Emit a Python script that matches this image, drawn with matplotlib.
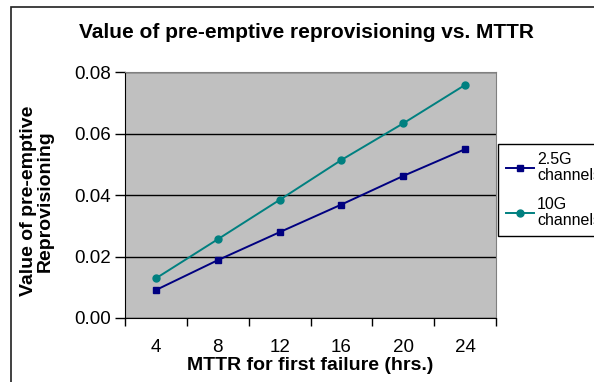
import matplotlib
matplotlib.use("Agg")
import matplotlib.pyplot as plt
from matplotlib.patches import Rectangle

plt.rcParams['font.family'] = ['Liberation Sans', 'DejaVu Sans']

# MTTR categories (hours) and the value of pre-emptive reprovisioning
mttr = ['4', '8', '12', '16', '20', '24']
val_25g = [0.0091, 0.0188, 0.0279, 0.0369, 0.0462, 0.0549]
val_10g = [0.0129, 0.0256, 0.0384, 0.0514, 0.0633, 0.0758]
series_names = ['2.5G\nchannels', '10G\nchannels']
yticks = [0.00, 0.02, 0.04, 0.06, 0.08]

fig = plt.figure(figsize=(5.94, 3.82), dpi=100)
W, H = 594.0, 382.0

# outer chart frame
fig.patches.append(Rectangle((11 / W, -0.2), 1.2, 1.2 - 7 / H,
                             transform=fig.transFigure, fill=False,
                             edgecolor='#202020', linewidth=1.2))

ax = fig.add_axes([125 / W, 1 - 318 / H, 371 / W, 246 / H])
ax.set_facecolor('#C0C0C0')

xs = list(range(len(mttr)))
ax.plot(xs, val_25g, color='#000080', marker='s', markersize=4.5,
        linewidth=1.4, label=series_names[0])
ax.plot(xs, val_10g, color='#008080', marker='o', markersize=5,
        linewidth=1.4, label=series_names[1])

ax.set_xlim(-0.5, len(mttr) - 0.5)
ax.set_ylim(0, 0.08)
ax.set_yticks(yticks)
ax.set_yticklabels(['%.2f' % v for v in yticks], fontsize=13.5)
ax.set_xticks(xs)
ax.set_xticklabels(mttr, fontsize=13.5)
ax.tick_params(axis='x', length=0, pad=15)
ax.set_xticks([i - 0.5 for i in range(len(mttr) + 1)], minor=True)
ax.tick_params(axis='x', which='minor', length=6, width=1, direction='out')
ax.tick_params(axis='y', length=7, width=1, direction='out', pad=3)

ax.grid(axis='y', color='black', linewidth=1)
ax.set_axisbelow(True)
for s in ['top', 'right']:
    ax.spines[s].set_color('#808080')
for s in ['left', 'bottom']:
    ax.spines[s].set_color('black')

fig.text(306 / W, 1 - 33 / H, 'Value of pre-emptive reprovisioning vs. MTTR',
         ha='center', va='center', fontsize=15, fontweight='bold')
fig.text(310 / W, 1 - 365 / H, 'MTTR for first failure (hrs.)',
         ha='center', va='center', fontsize=14, fontweight='bold')
fig.text(37 / W, 1 - 201 / H, 'Value of pre-emptive\nReprovisioning',
         ha='center', va='center', rotation=90, fontsize=14,
         fontweight='bold', linespacing=1.0)

leg = ax.legend(loc='upper left', bbox_to_anchor=(498 / W, 1 - 144 / H),
                bbox_transform=fig.transFigure, fontsize=11.5, frameon=True,
                fancybox=False, edgecolor='black', framealpha=1,
                handlelength=1.75, handletextpad=0.2, borderpad=0.5,
                labelspacing=0.85, borderaxespad=0)
leg.get_frame().set_linewidth(1)
for t in leg.get_texts():
    t.set_linespacing(1.12)

fig.savefig('out.png', dpi=100)
